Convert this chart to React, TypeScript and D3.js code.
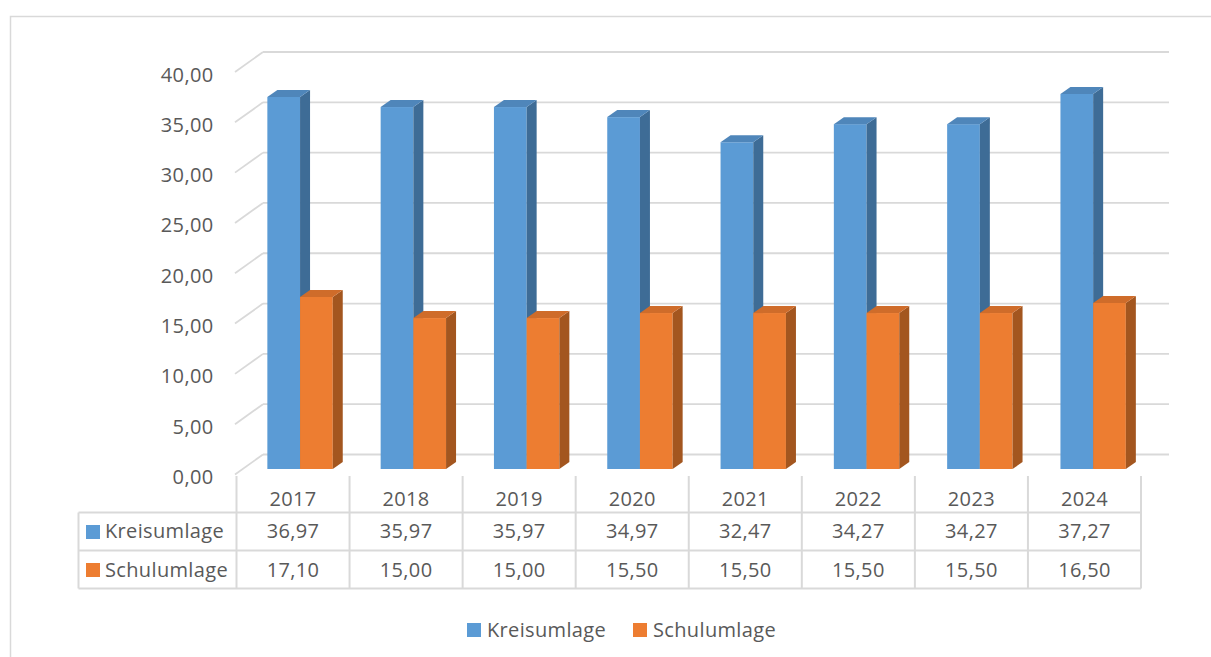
import React from 'react';
import * as d3 from 'd3';

const years = ['2017', '2018', '2019', '2020', '2021', '2022', '2023', '2024'];
const kreisumlage = [36.97, 35.97, 35.97, 34.97, 32.47, 34.27, 34.27, 37.27];
const schulumlage = [17.1, 15.0, 15.0, 15.5, 15.5, 15.5, 15.5, 16.5];
const yTicks = [0, 5, 10, 15, 20, 25, 30, 35, 40];
const seriesNames = ['Kreisumlage', 'Schulumlage'];
const seriesColors = ['#5B9BD5', '#ED7D31'];
const seriesSide = ['#3E6C96', '#A3561F'];
const seriesTop = ['#4F86BA', '#CF6C2A'];

const W = 1211;
const H = 657;
const FONT = '"Open Sans", "Noto Sans", sans-serif';
const TXT = '#595959';
const GRID = '#D9D9D9';

const locale = d3.formatLocale({ decimal: ',', thousands: '.', grouping: [3], currency: ['', '€'] });
const fmt = locale.format('.2f');

export default function App() {
  // back wall scale
  const yBack = d3.scaleLinear().domain([0, 40]).range([454.5, 52]);
  const wallDx = 28;
  const wallDy = 20;
  const wallLeft = 263;
  const wallRight = 1169;

  // bars
  const yBar = d3.scaleLinear().domain([0, 40]).range([469, 469 - 402.5]);
  const xBar = d3.scaleBand().domain(years).range([243.4, 1149.8]);
  const xSeries = d3.scaleBand().domain(seriesNames).range([-32.7, 32.7]);
  const bDx = 10;
  const bDy = -7;

  // table
  const xTable = d3.scaleBand().domain(years).range([236.5, 1141]);
  const tableLeft = 78.5;
  const rowTop = 512.5;
  const rowMid = 550.5;
  const rowBot = 588.5;
  const headerTop = 476;

  const seriesData = [kreisumlage, schulumlage];

  const bars: React.ReactNode[] = [];
  years.forEach((yr, i) => {
    seriesNames.forEach((s, si) => {
      const v = seriesData[si][i];
      const x0 = (xBar(yr) as number) + xBar.bandwidth() / 2 + (xSeries(s) as number);
      const x1 = x0 + xSeries.bandwidth();
      const yt = yBar(v);
      const yb = yBar(0);
      bars.push(
        <g key={yr + s}>
          <rect x={x0} y={yt} width={x1 - x0} height={yb - yt} fill={seriesColors[si]} />
          <polygon
            points={`${x1},${yt} ${x1 + bDx},${yt + bDy} ${x1 + bDx},${yb + bDy} ${x1},${yb}`}
            fill={seriesSide[si]}
          />
          <polygon
            points={`${x0},${yt} ${x0 + bDx},${yt + bDy} ${x1 + bDx},${yt + bDy} ${x1},${yt}`}
            fill={seriesTop[si]}
          />
        </g>
      );
    });
  });

  return (
    <svg
      width={W}
      height={H}
      style={{ position: 'absolute', left: 0, top: 0, background: '#fff' }}
      fontFamily={FONT}
      letterSpacing={0.35}
    >
      <rect x={0} y={0} width={W} height={H} fill="#fff" />
      <rect x={10.5} y={16.5} width={1300} height={700} fill="none" stroke={GRID} strokeWidth={1.5} />

      {/* back wall gridlines and left wall diagonals */}
      {yTicks.map((t) => (
        <g key={t}>
          <line x1={wallLeft} x2={wallRight} y1={yBack(t)} y2={yBack(t)} stroke={GRID} strokeWidth={1.8} />
          <line
            x1={wallLeft - wallDx}
            y1={yBack(t) + wallDy}
            x2={wallLeft}
            y2={yBack(t)}
            stroke={GRID}
            strokeWidth={1.8}
          />
          <text
            x={213.5}
            y={yBack(t) + wallDy + 9.5}
            textAnchor="end"
            fontSize={20}
            fill={TXT}
          >
            {fmt(t)}
          </text>
        </g>
      ))}

      {bars}

      {/* data table */}
      <g stroke={GRID} strokeWidth={2} fill="none">
        {[...years.map((y) => xTable(y) as number), 1141].map((x, i) => (
          <line key={i} x1={x} x2={x} y1={headerTop} y2={rowBot} />
        ))}
        <line x1={tableLeft} x2={tableLeft} y1={rowTop} y2={rowBot} />
        {[rowTop, rowMid, rowBot].map((y, i) => (
          <line key={'h' + i} x1={tableLeft} x2={1141} y1={y} y2={y} />
        ))}
      </g>
      {years.map((yr, i) => {
        const cx = (xTable(yr) as number) + xTable.bandwidth() / 2;
        return (
          <g key={'t' + yr} fontSize={20} fill={TXT} textAnchor="middle">
            <text x={cx} y={506}>{yr}</text>
            <text x={cx} y={538}>{fmt(kreisumlage[i])}</text>
            <text x={cx} y={577}>{fmt(schulumlage[i])}</text>
          </g>
        );
      })}
      {seriesNames.map((s, si) => (
        <g key={'rl' + s}>
          <rect x={86} y={525 + si * 38} width={14} height={14} fill={seriesColors[si]} />
          <text x={105} y={538 + si * 39} fontSize={20} fill={TXT}>{s}</text>
        </g>
      ))}

      {/* legend */}
      {seriesNames.map((s, si) => {
        const lx = si === 0 ? 467 : 633;
        return (
          <g key={'lg' + s}>
            <rect x={lx} y={623} width={14} height={14} fill={seriesColors[si]} />
            <text x={lx + 20} y={637} fontSize={20} fill={TXT}>{s}</text>
          </g>
        );
      })}
    </svg>
  );
}
